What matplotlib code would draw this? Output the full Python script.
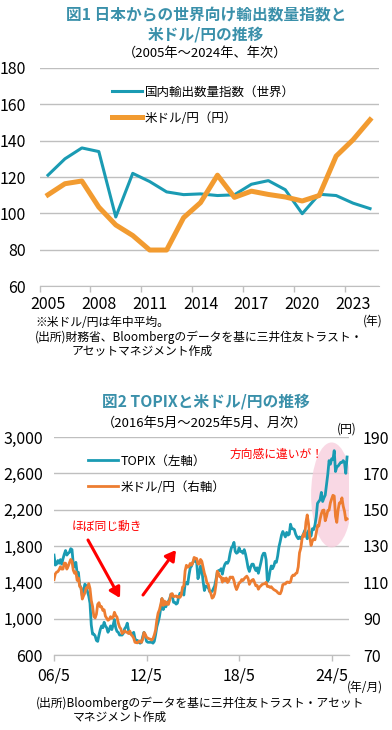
import numpy as np
import matplotlib
matplotlib.use('Agg')
import matplotlib.pyplot as plt
from matplotlib.patches import Ellipse

plt.rcParams['font.family'] = ['Noto Sans CJK JP', 'DejaVu Sans']

# ---- Fig.1 data (annual) ----
years = list(range(2005, 2025))
export_index = [121, 130, 136, 134, 98, 122, 117.5, 111.8, 110.3, 110.7,
                109.8, 110.2, 116, 118, 113, 99.8, 110.5, 109.8, 105.6, 102.6]
usdjpy_year = [110.2, 116.3, 117.8, 103.4, 93.6, 87.8, 79.8, 79.8, 97.6, 105.9,
               121.0, 108.8, 112.2, 110.4, 109.0, 106.8, 109.8, 131.5, 140.5, 151.5]

# ---- Fig.2 data (monthly, 2006/5 - 2025/5) ----
topix = [
    1700, 1590, 1600, 1640, 1610, 1650, 1600, 1660,                      # 2006 May-Dec
    1710, 1750, 1700, 1720, 1730, 1770, 1760, 1600, 1570, 1620, 1500, 1510,  # 2007
    1370, 1340, 1250, 1300, 1380, 1360, 1300, 1250, 1170, 930, 830, 830,    # 2008
    810, 760, 750, 820, 880, 920, 900, 960, 920, 900, 850, 880,             # 2009
    920, 880, 930, 990, 900, 860, 850, 820, 820, 820, 840, 890,             # 2010
    910, 950, 870, 840, 840, 830, 850, 780, 760, 760, 740, 730,             # 2011
    740, 800, 850, 810, 750, 740, 740, 740, 740, 730, 750, 820,             # 2012
    910, 960, 1020, 1110, 1220, 1100, 1160, 1130, 1170, 1190, 1220, 1270,   # 2013
    1250, 1180, 1180, 1160, 1170, 1240, 1280, 1270, 1310, 1260, 1380, 1400, # 2014
    1380, 1480, 1560, 1580, 1620, 1650, 1630, 1620, 1440, 1490, 1580, 1540, # 2015
    1410, 1310, 1360, 1350, 1350, 1300, 1300, 1300, 1330, 1360, 1430, 1510, # 2016
    1530, 1530, 1550, 1490, 1560, 1600, 1620, 1610, 1640, 1720, 1780, 1800, # 2017
    1840, 1740, 1720, 1730, 1780, 1740, 1740, 1720, 1760, 1710, 1640, 1560, # 2018
    1520, 1570, 1600, 1600, 1560, 1530, 1560, 1500, 1560, 1620, 1690, 1720, # 2019
    1720, 1650, 1410, 1430, 1520, 1580, 1550, 1580, 1630, 1620, 1690, 1790, # 2020
    1850, 1920, 1960, 1930, 1900, 1950, 1920, 1930, 2040, 1990, 1990, 1980, # 2021
    1930, 1900, 1880, 1900, 1880, 1900, 1930, 1970, 1930, 1880, 1970, 1930, # 2022
    1910, 1990, 1980, 2030, 2120, 2270, 2290, 2310, 2390, 2290, 2330, 2360, # 2023
    2480, 2590, 2740, 2700, 2760, 2750, 2850, 2620, 2670, 2680, 2700, 2720, # 2024
    2720, 2740, 2720, 2600, 2780,                                          # 2025 Jan-May
]
usdjpy_month = [
    111.5, 114.6, 115.6, 115.9, 117.0, 118.6, 117.3, 117.3,
    120.6, 120.5, 117.3, 118.8, 120.8, 122.6, 121.6, 116.7, 115.0, 115.8, 111.1, 112.4,
    107.7, 107.1, 100.8, 102.6, 104.1, 106.9, 106.9, 109.3, 106.6, 100.0, 96.8, 91.3,
    90.4, 92.5, 97.9, 98.8, 96.5, 96.6, 94.5, 94.9, 91.4, 90.3, 89.1, 89.6,
    91.1, 90.2, 90.7, 93.5, 91.8, 90.9, 87.7, 85.4, 84.4, 81.8, 82.5, 83.3,
    82.6, 82.5, 81.8, 83.2, 81.2, 80.5, 79.3, 77.0, 76.8, 76.7, 77.5, 77.8,
    76.9, 78.6, 82.4, 81.4, 79.7, 79.3, 78.9, 78.7, 78.2, 79.0, 80.9, 83.6,
    89.2, 93.1, 94.8, 97.7, 101.1, 97.3, 99.7, 97.8, 99.2, 97.8, 100.1, 103.5,
    103.8, 102.1, 102.3, 102.5, 101.8, 102.1, 101.7, 102.9, 107.4, 108.0, 116.3, 119.4,
    118.3, 118.8, 120.4, 119.5, 120.8, 123.7, 123.3, 123.1, 120.1, 120.1, 122.6, 121.6,
    118.2, 115.0, 112.9, 109.6, 109.0, 105.4, 103.9, 101.3, 101.9, 103.8, 108.6, 116.1,
    114.9, 113.0, 112.9, 110.1, 112.2, 110.9, 112.4, 109.9, 110.8, 112.9, 112.8, 112.9,
    110.9, 107.9, 106.0, 107.6, 109.7, 110.1, 111.5, 111.0, 112.0, 112.8, 113.4, 112.2,
    108.9, 110.4, 111.2, 111.6, 110.0, 108.1, 108.3, 106.2, 107.5, 108.1, 108.9, 109.1,
    109.3, 110.0, 107.7, 107.8, 107.2, 107.6, 106.7, 106.0, 105.6, 105.2, 104.4, 103.8,
    103.7, 105.4, 108.7, 109.1, 109.1, 110.1, 110.2, 109.8, 110.2, 113.1, 114.0, 113.8,
    114.8, 115.2, 118.5, 126.3, 128.8, 134.0, 136.6, 135.3, 143.1, 147.1, 142.3, 134.9,
    130.3, 132.7, 133.9, 133.4, 137.1, 141.2, 141.0, 144.8, 147.8, 149.6, 149.8, 143.9,
    146.3, 149.5, 149.7, 153.7, 155.9, 157.9, 157.5, 146.3, 143.0, 149.8, 153.7, 153.7,
    156.5, 151.9, 149.1, 144.3, 144.9,
]
month_ticks = [0, 72, 144, 216]
month_labels = ['06/5', '12/5', '18/5', '24/5']

TEAL = '#1A9BB3'
ORANGE1 = '#F29B30'
ORANGE2 = '#ED7D31'
TITLE = '#3A90AA'
GRID = '#BFBFBF'

W, H = 392, 730
def fx(x):
    return x / W
def fy(y):
    return 1 - y / H

fig = plt.figure(figsize=(W / 100, H / 100), dpi=100)

# ================= Fig.1 =================
fig.text(fx(206), fy(15), '図1 日本からの世界向け輸出数量指数と', ha='center', va='center',
         fontsize=11.3, fontweight='bold', color=TITLE)
fig.text(fx(206), fy(34), '米ドル/円の推移', ha='center', va='center',
         fontsize=11.3, fontweight='bold', color=TITLE)
fig.text(fx(205), fy(53), '（2005年～2024年、年次）', ha='center', va='center', fontsize=9.5)

ax1 = fig.add_axes([fx(39.5), fy(286), 339 / W, 218 / H])
xs = np.arange(len(years))
ax1.plot(xs, export_index, color=TEAL, lw=2.2, label='国内輸出数量指数（世界）')
ax1.plot(xs, usdjpy_year, color=ORANGE1, lw=3.6, label='米ドル/円（円）')
ax1.set_xlim(-0.5, len(years) - 0.5)
ax1.set_ylim(60, 180)
ax1.set_yticks(range(60, 181, 20))
ax1.set_xticks(np.arange(-0.5, len(years) - 1, 3))
ax1.set_xticklabels([])
ax1.set_xticks(xs[::3], minor=True)
ax1.set_xticklabels([str(y) for y in years[::3]], minor=True)
ax1.tick_params(axis='x', which='major', length=4, color=GRID, width=1)
ax1.tick_params(axis='x', which='minor', length=0, pad=7, labelsize=11.5)
ax1.tick_params(axis='y', length=0, pad=10, labelsize=11.5)
ax1.grid(axis='y', color=GRID, lw=1)
ax1.set_axisbelow(True)
for s in ['left', 'right', 'top']:
    ax1.spines[s].set_visible(False)
ax1.spines['bottom'].set_color(GRID)
ax1.legend(loc='upper left', bbox_to_anchor=(0.214, 0.92), frameon=False, fontsize=9,
           handlelength=2.4, handletextpad=0.2, labelspacing=1.05, borderpad=0, borderaxespad=0)

fig.text(fx(373), fy(321), '(年)', ha='center', va='center', fontsize=8.5)
fig.text(fx(35), fy(322), '※米ドル/円は年中平均。', ha='left', va='center', fontsize=8.5)
fig.text(fx(35), fy(337), '(出所)財務省、Bloombergのデータを基に三井住友トラスト・', ha='left', va='center', fontsize=8.5)
fig.text(fx(72), fy(351), 'アセットマネジメント作成', ha='left', va='center', fontsize=8.5)

# ================= Fig.2 =================
fig.text(fx(206), fy(402), '図2 TOPIXと米ドル/円の推移', ha='center', va='center',
         fontsize=11.3, fontweight='bold', color=TITLE)
fig.text(fx(205), fy(423), '（2016年5月～2025年5月、月次）', ha='center', va='center', fontsize=9.5)

ax2 = fig.add_axes([fx(54), fy(655), 295 / W, 218 / H])
ax3 = ax2.twinx()
mx = np.arange(len(topix))
ax2.add_patch(Ellipse((216, 2362), 32, 1156, facecolor='#F8CCDC', alpha=0.75,
                      edgecolor='none', zorder=1))
l1, = ax2.plot(mx, topix, color=TEAL, lw=2.0, label='TOPIX（左軸）', zorder=2)
l2, = ax3.plot(mx, usdjpy_month, color=ORANGE2, lw=2.0, label='米ドル/円（右軸）')
ax2.set_xlim(0, 229.5)
ax2.set_ylim(600, 3000)
ax3.set_ylim(70, 190)
ax2.set_yticks(range(600, 3001, 400))
ax2.set_yticklabels([f'{v:,}' for v in range(600, 3001, 400)])
ax3.set_yticks(range(70, 191, 20))
ax2.set_xticks(month_ticks)
ax2.set_xticklabels(month_labels)
ax2.tick_params(axis='x', length=4, color=GRID, width=1, pad=5, labelsize=11.5)
ax2.tick_params(axis='y', length=0, pad=8, labelsize=11.5)
ax3.tick_params(axis='y', length=0, pad=10, labelsize=11.5)
ax2.grid(axis='y', color=GRID, lw=1)
ax2.set_axisbelow(True)
for a in (ax2, ax3):
    for s in ['left', 'right', 'top']:
        a.spines[s].set_visible(False)
    a.spines['bottom'].set_color(GRID)
ax3.legend([l1, l2], [l1.get_label(), l2.get_label()], loc='upper left',
           bbox_to_anchor=(0.115, 0.92), frameon=False, fontsize=9,
           handlelength=2.4, handletextpad=0.2, labelspacing=1.05, borderpad=0, borderaxespad=0)

fig.text(fx(347), fy(429), '(円)', ha='center', va='center', fontsize=8.5)
fig.text(fx(107), fy(526), 'ほぼ同じ動き', ha='center', va='center', fontsize=8.5, color='#FF0000')
fig.text(fx(277), fy(454), '方向感に違いが！', ha='center', va='center', fontsize=8.5, color='#FF0000')
arrow = dict(arrowstyle='-|>,head_length=0.6,head_width=0.35', color='#FF0000', lw=2.2,
             shrinkA=0, shrinkB=0)
fig.add_artist(plt.Annotation('', xy=(fx(120), fy(598)), xytext=(fx(88), fy(540)),
                              xycoords='figure fraction', arrowprops=arrow))
fig.add_artist(plt.Annotation('', xy=(fx(176), fy(550)), xytext=(fx(143), fy(595)),
                              xycoords='figure fraction', arrowprops=arrow))

fig.text(fx(365), fy(687), '(年/月)', ha='center', va='center', fontsize=8.5)
fig.text(fx(36), fy(703), '(出所)Bloombergのデータを基に三井住友トラスト・アセット', ha='left', va='center', fontsize=8.5)
fig.text(fx(73), fy(717), 'マネジメント作成', ha='left', va='center', fontsize=8.5)

fig.savefig('out.png', dpi=100)
